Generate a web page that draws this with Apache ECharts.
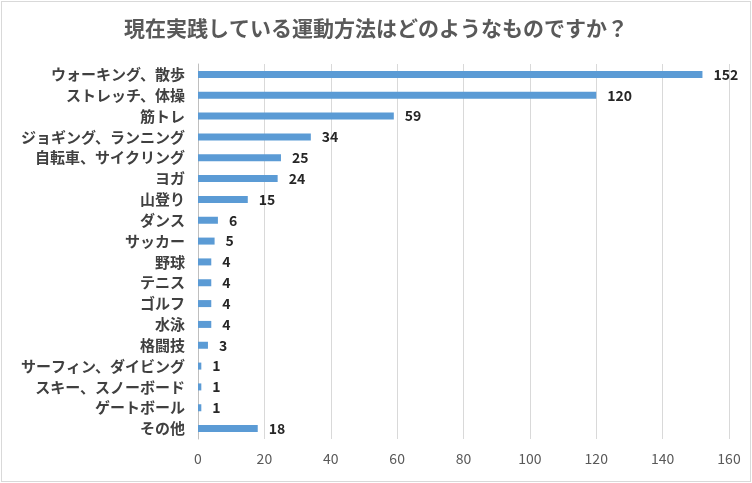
<!DOCTYPE html>
<html><head><meta charset="utf-8">
<script src="https://cdn.jsdelivr.net/npm/echarts@6/dist/echarts.min.js"></script>
<style>html,body{margin:0;padding:0;background:#fff}#c{width:752px;height:483px}
#b{position:absolute;left:1px;top:1px;width:748px;height:479px;border:1px solid #d9d9d9;pointer-events:none}</style>
</head><body><div id="c"></div><div id="b"></div>
<script>
const categories = ["ウォーキング、散歩","ストレッチ、体操","筋トレ","ジョギング、ランニング","自転車、サイクリング","ヨガ","山登り","ダンス","サッカー","野球","テニス","ゴルフ","水泳","格闘技","サーフィン、ダイビング","スキー、スノーボード","ゲートボール","その他"];
const values = [152,120,59,34,25,24,15,6,5,4,4,4,4,3,1,1,1,18];
const titleText = "現在実践している運動方法はどのようなものですか？";
const font = "'Noto Sans CJK JP', sans-serif";
const chart = echarts.init(document.getElementById('c'));
chart.setOption({
  animation:false,
  title:{text:titleText,left:'center',top:13,textStyle:{fontFamily:font,fontSize:21,fontWeight:'bold',color:'#595959'}},
  grid:{left:198,right:23,top:64,bottom:44},
  xAxis:{type:'value',min:0,max:160,interval:20,
    axisLine:{show:false},axisTick:{show:false},
    axisLabel:{fontFamily:font,fontSize:14,color:'#595959',margin:13},
    splitLine:{lineStyle:{color:'#d9d9d9',width:1}}},
  yAxis:{type:'category',data:categories.slice().reverse(),
    axisLine:{lineStyle:{color:'#bfbfbf'}},axisTick:{show:false},
    axisLabel:{fontFamily:font,fontSize:15,fontWeight:'bold',color:'#404040',margin:13}},
  series:[{type:'bar',data:values.slice().reverse(),barWidth:7,
    itemStyle:{color:'#5B9BD5'},
    label:{show:true,position:'right',distance:11,fontFamily:font,fontSize:14,fontWeight:'bold',color:'#262626'}}]
});
</script></body></html>
